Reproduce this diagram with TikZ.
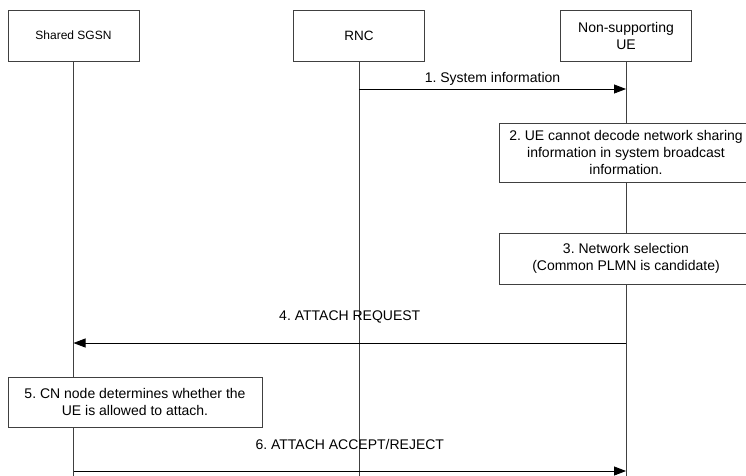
\documentclass[tikz,border=0pt]{standalone}
\usepackage{fontspec}
\setmainfont{Liberation Sans}
\usetikzlibrary{arrows.meta}
\frenchspacing
\tikzset{
  entity/.style={draw=black!75, fill=white, minimum width=131pt, minimum height=51pt, align=center},
  note/.style={draw=black!75, fill=white, minimum width=254pt, align=center},
  life/.style={draw=black!75, line width=0.8pt},
  msg/.style={draw=black, line width=0.8pt, -{Triangle[length=12pt,width=9pt]}}
}
\newcommand{\bigtxt}{\fontsize{14}{17}\selectfont}
\newcommand{\smalltxt}{\fontsize{12}{14}\selectfont}
\begin{document}
\begin{tikzpicture}[x=1pt,y=-1pt,font=\bigtxt,line width=0.8pt]
    \clip (0,0) rectangle (746,475);
    %entities
    \node[entity, font=\smalltxt] (sgsn) at (73.5,35.5) {Shared SGSN};
    \node[entity, font=\fontsize{13.5}{16}\selectfont] (rnc) at (359,35.5) {RNC};
    \node[entity] (ue) at (626,35.5) {Non-supporting\\UE};
    %lifelines
    \coordinate (sgsn end) at (sgsn |- 0,480);
    \coordinate (rnc end) at (rnc |- 0,480);
    \coordinate (ue end) at (ue |- 0,480);
    \draw[life] (sgsn) -- (sgsn end);
    \draw[life] (rnc) -- (rnc end);
    \draw[life] (ue) -- (ue end);
    %messages
    \coordinate (m1 from) at (rnc |- 0,89);
    \coordinate (m1 to) at (ue |- 0,89);
    \draw[msg] (m1 from) -- node[above=0pt] {1. System information} (m1 to);

    \node[note, minimum height=59pt] (decode) at (626,152.5)
        {2. UE cannot decode network sharing\\information in system broadcast\\information.};
    \node[note, minimum height=51pt] (select) at (626,258.5)
        {3. Network selection\\(Common PLMN is candidate)};

    \coordinate (m4 from) at (ue |- 0,343);
    \coordinate (m4 to) at (sgsn |- 0,343);
    \draw[msg] (m4 from) -- node[above=16pt] {4. ATTACH REQUEST} (m4 to);

    \node[note, minimum height=50pt] (check) at (135,402)
        {5. CN node determines whether the\\UE is allowed to attach.};

    \coordinate (m6 from) at (sgsn |- 0,471);
    \coordinate (m6 to) at (ue |- 0,471);
    \draw[msg] (m6 from) -- node[above=18pt] {6. ATTACH ACCEPT/REJECT} (m6 to);
\end{tikzpicture}
\end{document}
